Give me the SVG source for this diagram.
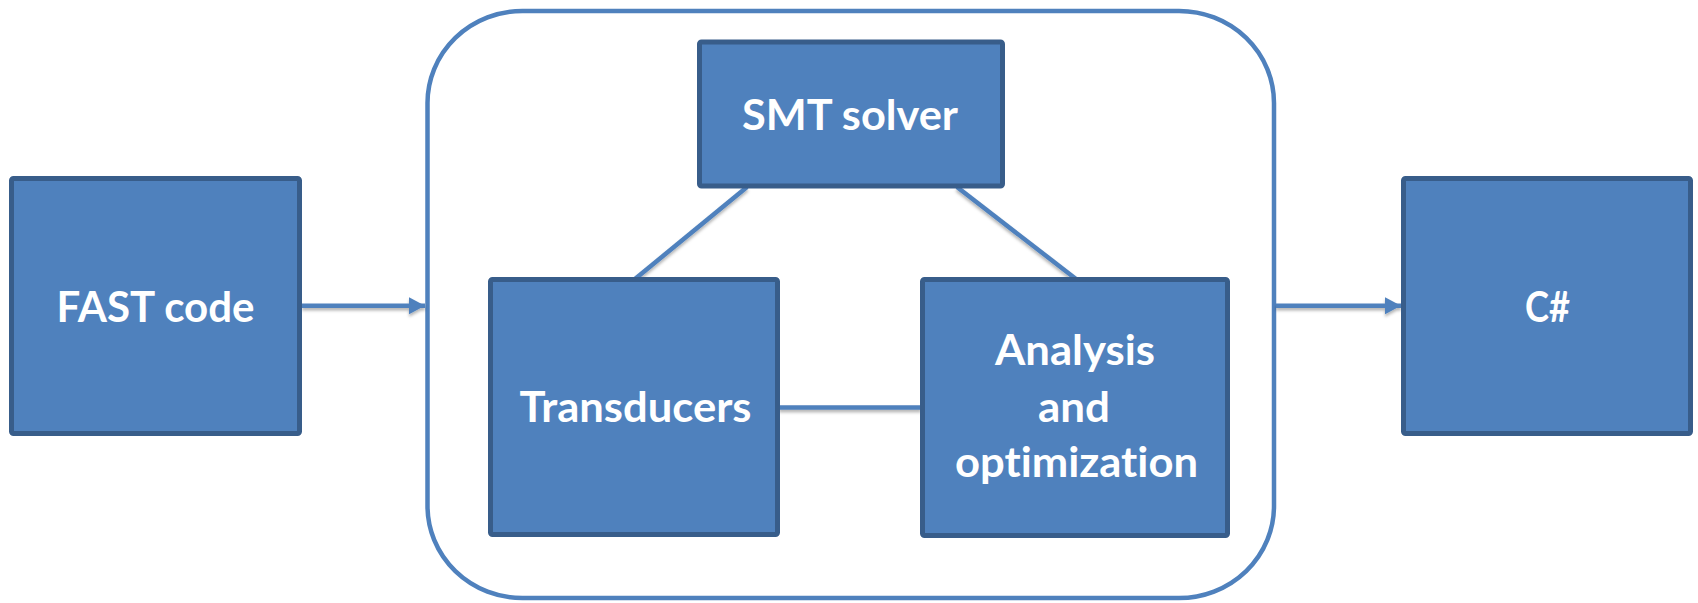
<svg xmlns="http://www.w3.org/2000/svg" width="1698" height="603" viewBox="0 0 1698 603">
  <defs>
    <style>
      .box { fill: #4F81BD; stroke: #385D8A; stroke-width: 5; }
      .frame { fill: none; stroke: #4F81BD; stroke-width: 4.5; }
      .link { fill: none; stroke: #4F81BD; stroke-width: 4.5; }
      .label { font-family: Lato, "Open Sans", "Liberation Sans", sans-serif; font-weight: bold; font-size: 42px; fill: #FFFFFF; text-anchor: middle; font-variant-ligatures: none; font-feature-settings: "liga" 0, "clig" 0; }
    </style>
    <filter id="shade" x="-10%" y="-50%" width="120%" height="300%">
      <feDropShadow dx="0" dy="2.5" stdDeviation="1.5" flood-color="#000000" flood-opacity="0.3"/>
    </filter>
    <marker id="head" markerUnits="userSpaceOnUse" markerWidth="17" markerHeight="18" refX="16" refY="8.5" orient="auto">
      <path d="M0,0 L16,8.5 L0,17 Z" fill="#4F81BD"/>
    </marker>
  </defs>

  <!-- rounded frame grouping the core components -->
  <g id="core">
    <rect class="frame" x="427.5" y="11" width="846.5" height="587" rx="95" ry="92"/>
  </g>

  <!-- connectors -->
  <g id="connectors" filter="url(#shade)">
    <line class="link" x1="302" y1="305.7" x2="425" y2="305.7" marker-end="url(#head)"/>
    <line class="link" x1="1276" y1="305.7" x2="1401" y2="305.7" marker-end="url(#head)"/>
    <line class="link" x1="747" y1="187" x2="635" y2="279"/>
    <line class="link" x1="957" y1="187" x2="1076" y2="279"/>
    <line class="link" x1="779" y1="407.5" x2="921" y2="407.5"/>
  </g>

  <g id="fast-code">
    <rect class="box" x="11.5" y="178.5" width="288" height="255" rx="2"/>
    <text class="label" x="155.5" y="321.7" textLength="198" lengthAdjust="spacingAndGlyphs">FAST code</text>
  </g>

  <g id="smt-solver">
    <rect class="box" x="699.5" y="42" width="303" height="144" rx="2"/>
    <text class="label" x="850" y="130" textLength="216" lengthAdjust="spacingAndGlyphs">SMT solver</text>
  </g>

  <g id="transducers">
    <rect class="box" x="490.5" y="279.5" width="287" height="255" rx="2"/>
    <text class="label" x="635.5" y="421.7" textLength="232" lengthAdjust="spacingAndGlyphs">Transducers</text>
  </g>

  <g id="analysis">
    <rect class="box" x="922.5" y="279.5" width="305" height="256" rx="2"/>
    <text class="label" x="1075" y="365" textLength="160" lengthAdjust="spacingAndGlyphs">Analysis</text>
    <text class="label" x="1074" y="421.7" textLength="72" lengthAdjust="spacingAndGlyphs">and</text>
    <text class="label" x="1076.5" y="476.7" textLength="243" lengthAdjust="spacingAndGlyphs">optimization</text>
  </g>

  <g id="csharp">
    <rect class="box" x="1403.5" y="178.5" width="287" height="255" rx="2"/>
    <text class="label" x="1547.5" y="321.7" textLength="45" lengthAdjust="spacingAndGlyphs">C#</text>
  </g>
</svg>
